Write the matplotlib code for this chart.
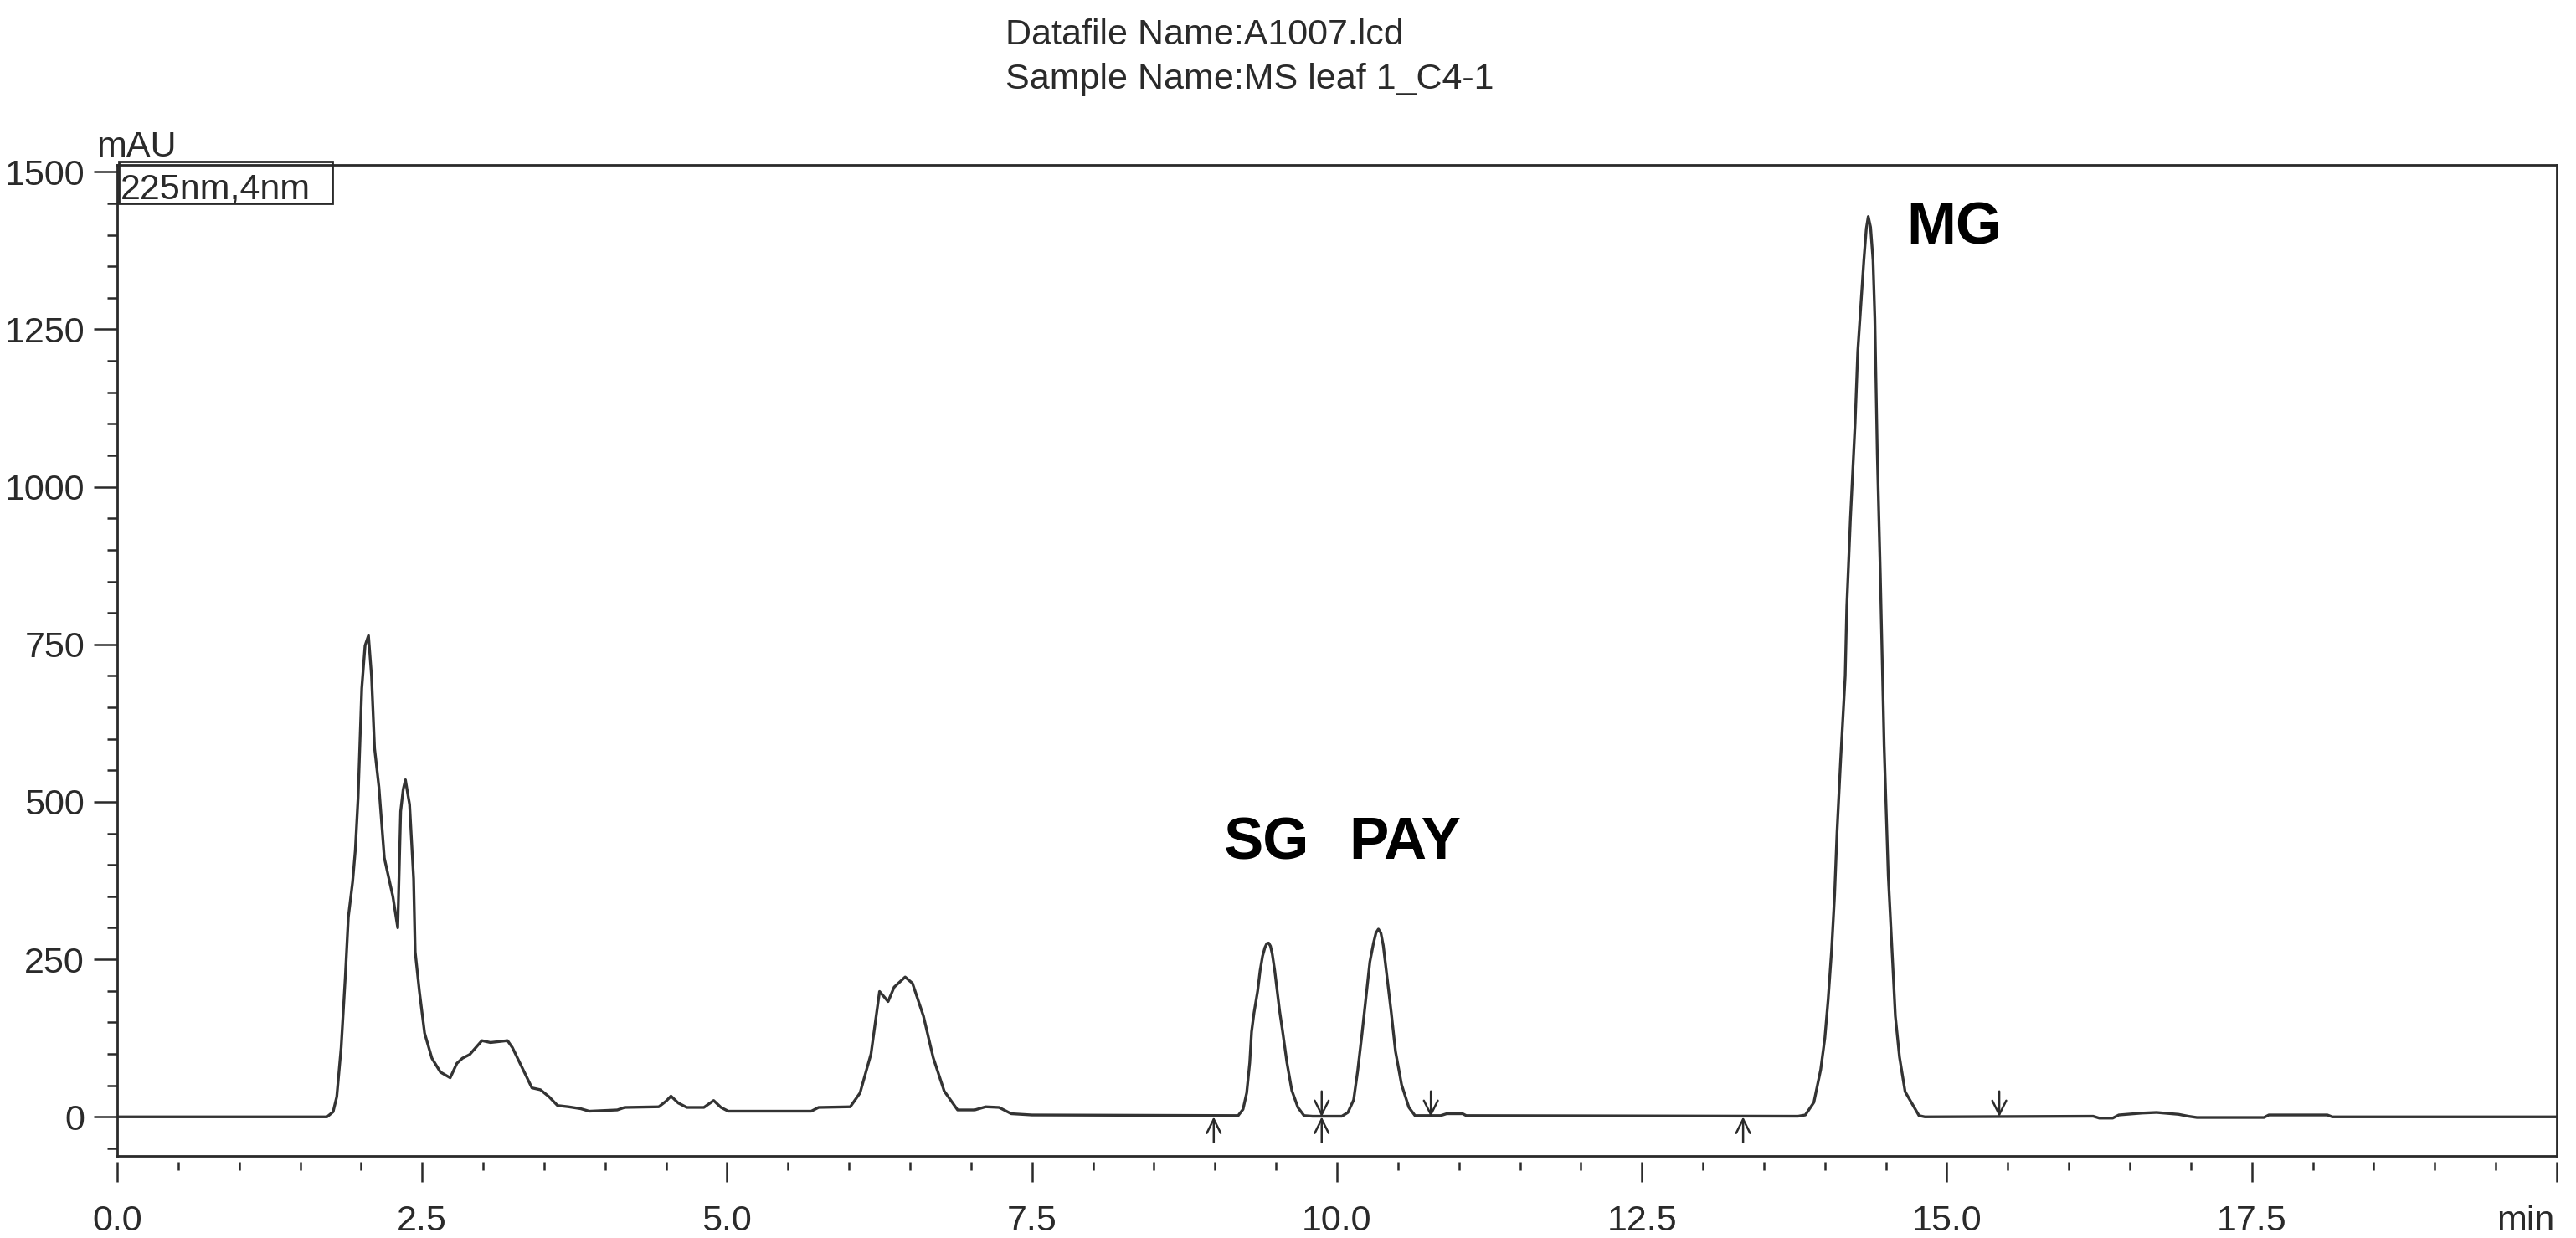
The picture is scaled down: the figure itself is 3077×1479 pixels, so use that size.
"""HPLC chromatogram, 225 nm, sample MS leaf 1_C4-1 (A1007.lcd)."""
import matplotlib
matplotlib.use("Agg")
import matplotlib.pyplot as plt
from matplotlib.patches import Rectangle
from matplotlib.ticker import MultipleLocator, FixedLocator

# trace: retention time (min) / absorbance (mAU)
time_min = [
    0.00, 1.72, 1.77, 1.80, 1.836, 1.87, 1.895, 1.93, 1.952, 1.975, 2.005,
    2.032, 2.06, 2.085, 2.11, 2.146, 2.19, 2.26, 2.30, 2.324, 2.345, 2.363,
    2.38, 2.397, 2.43, 2.443, 2.477, 2.52, 2.58, 2.65, 2.73, 2.785, 2.83,
    2.89, 2.99, 3.06, 3.20, 3.24, 3.31, 3.40, 3.47, 3.54, 3.61, 3.70, 3.80,
    3.87, 4.10, 4.16, 4.44, 4.50, 4.54, 4.60, 4.67, 4.81, 4.89, 4.95, 5.01,
    5.69, 5.75, 6.01, 6.09, 6.18, 6.25, 6.29, 6.32, 6.37, 6.46, 6.52, 6.61,
    6.69, 6.78, 6.89, 7.03, 7.12, 7.23, 7.33, 7.50, 9.00, 9.15,
    # SG
    9.19, 9.23, 9.26, 9.285, 9.30, 9.32, 9.35, 9.37, 9.39, 9.41, 9.425,
    9.44, 9.455, 9.47, 9.49, 9.51, 9.53, 9.555, 9.59, 9.63, 9.68, 9.73, 9.80,
    # PAY
    10.04, 10.09, 10.137, 10.17, 10.205, 10.24, 10.27, 10.30, 10.32, 10.34,
    10.36, 10.38, 10.41, 10.445, 10.48, 10.53, 10.59, 10.64,
    10.85, 10.90, 11.03, 11.06, 13.78,
    # MG
    13.84, 13.91, 13.966, 14.00, 14.027, 14.055, 14.08, 14.10, 14.13,
    14.167, 14.18, 14.21, 14.248, 14.27, 14.30, 14.32, 14.34, 14.356,
    14.375, 14.395, 14.41, 14.43, 14.455, 14.486, 14.52, 14.555, 14.578,
    14.612, 14.658, 14.772, 14.82,
    16.20, 16.25, 16.36, 16.41, 16.60, 16.72, 16.90, 16.98, 17.05, 17.60,
    17.64, 18.12, 18.16, 20.00,
]
signal_mau = [
    0, 0, 8, 32, 110, 222, 317, 373, 423, 507, 680,
    748, 764, 700, 585, 523, 411, 350, 300, 485, 520, 535,
    515, 496, 378, 262, 200, 133, 93, 71, 62, 85, 93,
    99, 121, 118, 121, 110, 82, 46, 43, 32, 18, 16, 13,
    9, 11, 15, 16, 25, 33, 22, 15, 15, 26, 15, 9,
    9, 15, 16, 38, 100, 199, 190, 183, 206, 222, 212, 160,
    94, 41, 11, 11, 16, 15, 5, 3, 2, 2,
    2, 12, 38, 86, 135, 165, 200, 232, 255, 269, 275,
    276, 271, 258, 232, 200, 168, 135, 86, 42, 15, 2, 1,
    1, 7, 27, 73, 131, 193, 246, 276, 292, 298,
    292, 272, 223, 166, 104, 51, 15, 2,
    2, 5, 5, 2, 1,
    3, 23, 75, 125, 186, 263, 352, 452, 568,
    700, 810, 950, 1100, 1215, 1303, 1360, 1410, 1429,
    1412, 1360, 1267, 1053, 860, 590, 383, 250, 160,
    95, 40, 2, 0,
    1, -2, -2, 3, 6, 7, 4, 1, -1, -1,
    3, 3, 0, 0,
]

# integration start/end markers
up_marks = [8.99, 9.875, 13.33]
down_marks = [9.875, 10.77, 15.43]

peak_names = ["SG", "PAY", "MG"]
peak_label_xy = [(9.07, 409), (10.10, 409), (14.67, 1386)]

x_major = [0.0, 2.5, 5.0, 7.5, 10.0, 12.5, 15.0, 17.5, 20.0]
x_labels = ["0.0", "2.5", "5.0", "7.5", "10.0", "12.5", "15.0", "17.5", ""]
y_major = [0, 250, 500, 750, 1000, 1250, 1500]

FONT = ["Liberation Sans", "DejaVu Sans"]
INK = "#2a2a2a"
FS = 31
plt.rcParams["font.family"] = FONT

fig = plt.figure(figsize=(30.77, 14.79), dpi=100)
ax = fig.add_axes([0.0455, 0.0663, 0.947, 0.8005])

ax.plot(time_min, signal_mau, color="#333333", lw=2.4, solid_joinstyle="round")

for t in up_marks:
    ax.annotate("", xy=(t, 0), xytext=(0, -22), textcoords="offset points",
                arrowprops=dict(arrowstyle="->", color=INK, lw=1.8,
                                shrinkA=0, shrinkB=0, mutation_scale=30))
for t in down_marks:
    ax.annotate("", xy=(t, 0), xytext=(0, 22), textcoords="offset points",
                arrowprops=dict(arrowstyle="->", color=INK, lw=1.8,
                                shrinkA=0, shrinkB=0, mutation_scale=30))

for name, (px, py) in zip(peak_names, peak_label_xy):
    ax.text(px, py, name, fontsize=51, fontweight="bold", color="black",
            ha="left", va="baseline")

ax.set_xlim(0, 20)
ax.set_ylim(-62, 1511)

ax.xaxis.set_major_locator(FixedLocator(x_major))
ax.set_xticklabels(x_labels)
ax.xaxis.set_minor_locator(MultipleLocator(0.5))
ax.yaxis.set_major_locator(FixedLocator(y_major))
ax.yaxis.set_minor_locator(MultipleLocator(50))

ax.tick_params(axis="both", which="both", direction="out", colors=INK,
               labelcolor=INK, width=1.8, labelsize=FS)
ax.tick_params(axis="y", which="major", length=20, pad=8)
ax.tick_params(axis="y", which="minor", length=8.5)
ax.tick_params(axis="x", which="major", length=17, pad=20)
ax.tick_params(axis="x", which="minor", length=7)

for side in ["left", "right", "top"]:
    ax.spines[side].set_linewidth(2.0)
    ax.spines[side].set_color(INK)
# x ticks hang a few pixels below the frame
ax.spines["bottom"].set_position(("outward", 5))
ax.spines["bottom"].set_color("none")
ax.plot([0, 1], [0, 0], transform=ax.transAxes, color=INK, lw=2.0,
        clip_on=False)

# "min" sits where the 20.0 label would be, right-aligned to its tick
fig.canvas.draw()
lab = ax.get_xticklabels()[0]
ax.text(19.98, lab.get_position()[1], "min", fontsize=FS, color=INK,
        ha="right", va=lab.get_va(),
        transform=matplotlib.transforms.blended_transform_factory(
            ax.transData, lab.get_transform()))

fig.text(0.0374, 0.8736, "mAU", fontsize=FS, color=INK, ha="left", va="baseline")
fig.add_artist(Rectangle((0.04615, 0.8357), 0.0829, 0.0338,
                         transform=fig.transFigure, fill=False, ec=INK, lw=2.0))
fig.text(0.0468, 0.8391, "225nm,4nm", fontsize=FS, color=INK, ha="left",
         va="baseline")

fig.text(0.3903, 0.9642, "Datafile Name:A1007.lcd", fontsize=FS, color=INK,
         ha="left", va="baseline")
fig.text(0.3903, 0.9283, "Sample Name:MS leaf 1_C4-1", fontsize=FS, color=INK,
         ha="left", va="baseline")

fig.savefig("out.png", dpi=100, facecolor="white")
